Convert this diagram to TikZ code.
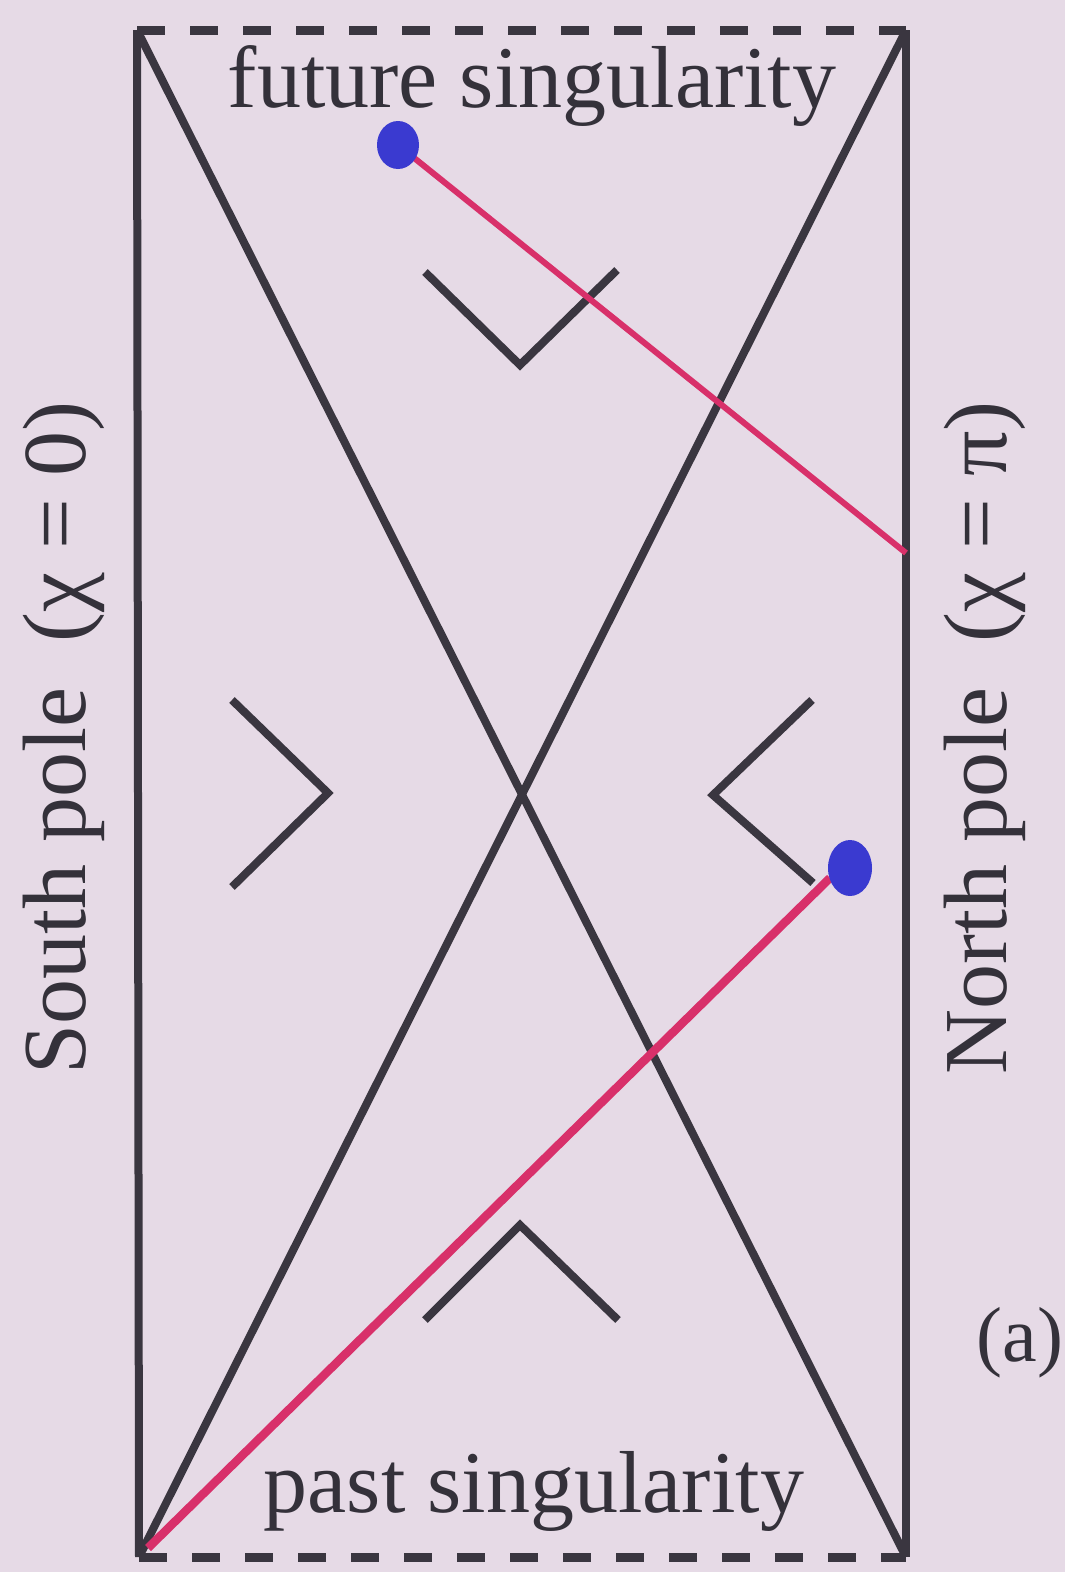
\documentclass[tikz,border=0pt]{standalone}
\usepackage{fontspec}
\setmainfont{Liberation Serif}
\definecolor{bgc}{HTML}{E6DAE6}
\definecolor{ink}{HTML}{3A3640}
\definecolor{redl}{HTML}{D8306A}
\definecolor{dotc}{HTML}{3A3AD0}
\begin{document}
\begin{tikzpicture}[x=1pt,y=-1pt,
  frame/.style={draw=ink,line width=8pt},
  dashframe/.style={draw=ink,line width=9pt,dash pattern=on 28pt off 25pt},
  chev/.style={draw=ink,line width=8pt},
  redline/.style={draw=redl,line width=6pt},
  dotst/.style={fill=dotc},
  lbl/.style={inner sep=0pt,text=ink!90!black}]
\fill[bgc] (0,0) rectangle (1065,1572);
\useasboundingbox (0,0) rectangle (1065,1572);
% corners
\coordinate (tl) at (137,30);
\coordinate (tr) at (906,30);
\coordinate (bl) at (139,1557);
\coordinate (br) at (906,1557);
% frame
\draw[frame] (tl) -- (bl);
\draw[frame] (tr) -- (br);
\draw[dashframe] (tl) -- (tr);
\draw[dashframe] (bl) -- (br);
\draw[frame] (tl) -- (br);
\draw[frame] (tr) -- (bl);
% chevrons
\draw[chev] (425,272) -- (520,365) -- (617,270);
\draw[chev] (232,700) -- (328,793) -- (232,887);
\draw[chev] (812,700) -- (713,795) -- (813,883);
\draw[chev] (425,1320) -- (520,1225) -- (618,1320);
% red lines and dots
\coordinate (re) at (906,553);
\coordinate (rs) at (148,1548);
\node[inner sep=0pt] (dot1) at (398,145) {};
\node[inner sep=0pt] (dot2) at (830,878) {};
\draw[redline] (dot1.center) -- (re);
\draw[redline,line width=8.5pt] (rs) -- (dot2.center);
\fill[dotst] (850,868) ellipse (22pt and 28pt);
\fill[dotst] (398,145) ellipse (21pt and 24pt);
% labels
\node[lbl,font=\fontsize{88}{92}\selectfont] (fs) at (532,86) {future singularity};
\node[lbl,font=\fontsize{88}{92}\selectfont] (ps) at (534,1491) {past singularity};
\node[lbl,rotate=90,font=\fontsize{90}{94}\selectfont] (sp) at (64,738) {South pole\ \ (χ = 0)};
\node[lbl,rotate=90,font=\fontsize{90}{94}\selectfont] (np) at (985,738) {North pole\ \ (χ = π)};
\node[lbl,font=\fontsize{78}{90}\selectfont] (a) at (1020,1343) {(a)};
\end{tikzpicture}
\end{document}
